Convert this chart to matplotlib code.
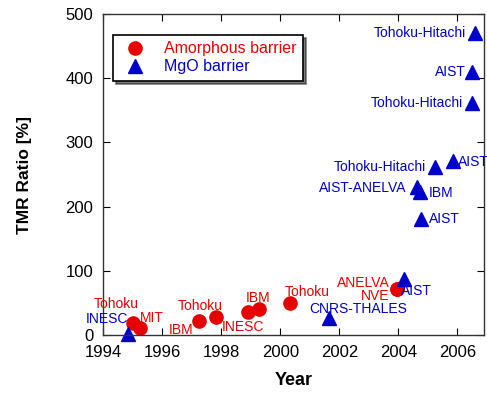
# -*- coding: utf-8 -*-

import matplotlib
matplotlib.use('Agg')
import matplotlib.pyplot as plt

plt.rcParams['font.family'] = ['Liberation Sans', 'DejaVu Sans']

# amorphous (AlOx) barrier junctions
amo_year = [1995.0, 1995.25, 1997.26, 1997.83, 1998.9, 1999.27, 2000.34, 2003.96, 2003.96]
amo_tmr = [18, 11, 22, 28, 36, 40, 50, 71, 71]
amo_lab = ['Tohoku', 'MIT', 'IBM', 'Tohoku', 'INESC', 'IBM', 'Tohoku', 'ANELVA', 'NVE']

# MgO barrier junctions
mgo_year = [1994.86, 2001.64, 2004.18, 2006.58, 2006.51, 2006.51, 2005.84, 2005.25,
            2004.63, 2004.75, 2004.77]
mgo_tmr = [2, 26, 88, 471, 410, 361, 271, 262, 231, 222, 180]
mgo_lab = ['INESC', 'CNRS-THALES', 'AIST', 'Tohoku-Hitachi', 'AIST', 'Tohoku-Hitachi',
           'AIST', 'Tohoku-Hitachi', 'AIST-ANELVA', 'IBM', 'AIST']

# label placement (offset in pixels, horizontal alignment)
amo_off = [(-16, 19, 'center'), (12, 10, 'center'), (-18, -9, 'center'), (-16, 11, 'center'),
           (-5, -15, 'center'), (-1, 11, 'center'), (17, 11, 'center'), (-34, 6, 'center'),
           (-22, -7, 'center')]
mgo_off = [(-21, 15, 'center'), (30, 9, 'center'), (13, -12, 'center'), (-9, 0, 'right'),
           (-7, 0, 'right'), (-9, 0, 'right'), (5, -1, 'left'), (-9, 0, 'right'),
           (-10, -1, 'right'), (8, -1, 'left'), (8, 0, 'left')]

red = '#e60000'
blue = '#0000cc'

fig = plt.figure(figsize=(4.87, 3.96), dpi=100)
ax = fig.add_axes([0.2115, 0.154, 0.7823, 0.8106])

ax.plot(amo_year, amo_tmr, 'o', color=red, ms=9.5, clip_on=False, label='Amorphous barrier')
ax.plot(mgo_year, mgo_tmr, '^', color=blue, ms=9.5, clip_on=False, label='MgO barrier')

for x, y, s, (dx, dy, ha) in zip(amo_year, amo_tmr, amo_lab, amo_off):
    ax.annotate(s, (x, y), xytext=(dx, dy), textcoords='offset pixels',
                ha=ha, va='center', color=red, fontsize=10, annotation_clip=False)
for x, y, s, (dx, dy, ha) in zip(mgo_year, mgo_tmr, mgo_lab, mgo_off):
    ax.annotate(s, (x, y), xytext=(dx, dy), textcoords='offset pixels',
                ha=ha, va='center', color=blue, fontsize=10, annotation_clip=False)

ax.set_xlim(1994, 2006.9)
ax.set_ylim(0, 500)
ax.set_xticks(range(1994, 2007, 2))
ax.set_yticks(range(0, 501, 100))
ax.tick_params(direction='in', top=True, right=True, length=5, labelsize=12)
ax.tick_params(axis='x', pad=7)
ax.tick_params(axis='y', pad=7)
for sp in ax.spines.values():
    sp.set_linewidth(1.0)
    sp.set_color('#333333')

ax.set_xlabel('Year', fontsize=13, fontweight='bold', labelpad=9)
ax.set_ylabel('TMR Ratio [%]', fontsize=12.5, fontweight='bold', labelpad=24)

leg = ax.legend(loc='upper left', bbox_to_anchor=(0.026, 0.935), borderaxespad=0,
                fancybox=False, shadow={'color': 'black'}, fontsize=11.5,
                handletextpad=0.8, borderpad=0.4, labelspacing=0.2)
leg.get_frame().set_edgecolor('black')
leg.get_frame().set_linewidth(1.2)
for txt, c in zip(leg.get_texts(), [red, blue]):
    txt.set_color(c)

plt.savefig('out.png', dpi=100)
plt.close()
